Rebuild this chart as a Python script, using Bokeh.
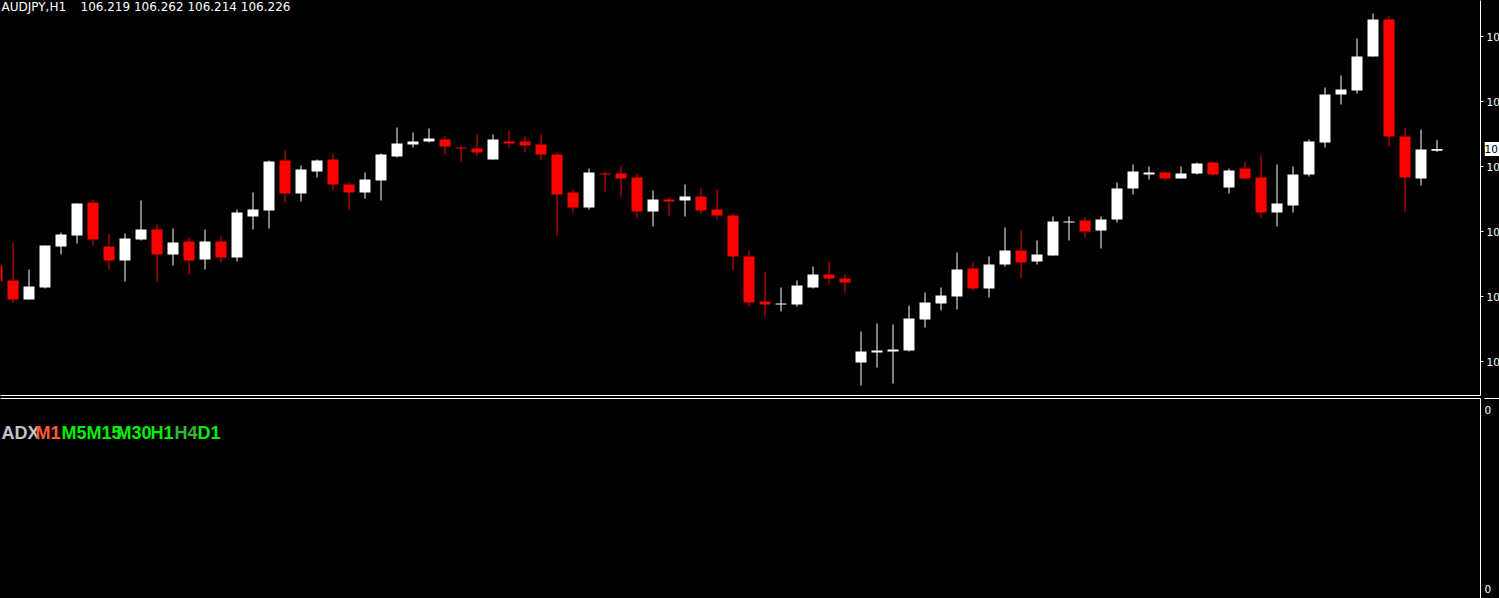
from bokeh.plotting import figure
from bokeh.models import (ColumnDataSource, Range1d, LinearAxis, FixedTicker,
                          CustomJSTickFormatter, Label)
from bokeh.layouts import column, row
from bokeh.core.properties import value
from bokeh.embed import file_html
from bokeh.resources import INLINE

# ---------------- data ----------------
symbol = "AUDJPY,H1"
bar_index = list(range(-1, 90))

opens = [
    105.760,
    105.700, 105.624, 105.672, 105.836, 105.880, 106.012, 105.836, 105.780, 105.864, 105.904,
    105.804, 105.856, 105.784, 105.856, 105.792, 105.956, 105.980, 106.180, 106.048, 106.136,
    106.184, 106.084, 106.052, 106.100, 106.196, 106.244, 106.256, 106.264, 106.232, 106.228,
    106.184, 106.256, 106.256, 106.244, 106.204, 106.052, 105.992, 106.128, 106.128, 106.112,
    105.976, 106.024, 106.020, 106.036, 105.984, 105.960, 105.796, 105.616, 105.604, 105.604,
    105.672, 105.724, 105.708, 105.372, 105.412, 105.416, 105.420, 105.544, 105.608, 105.636,
    105.748, 105.668, 105.764, 105.820, 105.776, 105.800, 105.932, 105.940, 105.900, 105.944,
    106.068, 106.124, 106.132, 106.108, 106.128, 106.172, 106.072, 106.148, 106.112, 105.972,
    106.000, 106.124, 106.252, 106.444, 106.460, 106.596, 106.744, 106.276, 106.108, 106.219,
]
highs = [
    105.768,
    105.852, 105.744, 105.840, 105.892, 106.008, 106.024, 105.888, 105.888, 106.020, 105.924,
    105.908, 105.872, 105.904, 105.876, 105.984, 106.052, 106.180, 106.220, 106.160, 106.184,
    106.208, 106.092, 106.132, 106.208, 106.312, 106.292, 106.308, 106.280, 106.240, 106.284,
    106.284, 106.300, 106.276, 106.284, 106.212, 106.064, 106.148, 106.136, 106.156, 106.128,
    106.060, 106.032, 106.084, 106.068, 106.064, 105.968, 105.820, 105.736, 105.672, 105.700,
    105.756, 105.776, 105.724, 105.496, 105.528, 105.524, 105.600, 105.652, 105.672, 105.812,
    105.772, 105.796, 105.912, 105.900, 105.860, 105.956, 105.956, 105.952, 105.956, 106.092,
    106.164, 106.156, 106.136, 106.156, 106.172, 106.176, 106.148, 106.176, 106.200, 106.164,
    106.156, 106.264, 106.472, 106.520, 106.668, 106.768, 106.760, 106.312, 106.304, 106.262,
]
lows = [
    105.688,
    105.612, 105.624, 105.668, 105.804, 105.848, 105.840, 105.744, 105.696, 105.860, 105.696,
    105.760, 105.724, 105.744, 105.772, 105.776, 105.904, 105.908, 106.012, 106.016, 106.112,
    106.060, 105.984, 106.028, 106.020, 106.192, 106.232, 106.252, 106.204, 106.176, 106.200,
    106.184, 106.232, 106.212, 106.180, 105.880, 105.972, 105.984, 106.056, 106.036, 105.952,
    105.916, 105.960, 105.956, 105.968, 105.944, 105.740, 105.596, 105.556, 105.576, 105.596,
    105.668, 105.688, 105.652, 105.280, 105.352, 105.288, 105.416, 105.512, 105.580, 105.584,
    105.660, 105.632, 105.756, 105.708, 105.764, 105.800, 105.860, 105.872, 105.828, 105.932,
    106.044, 106.104, 106.100, 106.108, 106.124, 106.120, 106.048, 106.104, 105.952, 105.916,
    105.972, 106.116, 106.232, 106.404, 106.448, 106.596, 106.236, 105.976, 106.080, 106.214,
]
closes = [
    105.696,
    105.624, 105.676, 105.840, 105.884, 106.008, 105.864, 105.780, 105.868, 105.904, 105.804,
    105.852, 105.780, 105.856, 105.792, 105.972, 105.984, 106.176, 106.048, 106.144, 106.180,
    106.084, 106.052, 106.104, 106.204, 106.248, 106.256, 106.268, 106.236, 106.228, 106.212,
    106.264, 106.248, 106.240, 106.204, 106.044, 105.992, 106.132, 106.124, 106.108, 105.976,
    106.024, 106.016, 106.036, 105.980, 105.960, 105.796, 105.612, 105.604, 105.608, 105.680,
    105.724, 105.708, 105.692, 105.416, 105.420, 105.424, 105.548, 105.612, 105.640, 105.744,
    105.668, 105.764, 105.820, 105.772, 105.804, 105.936, 105.936, 105.896, 105.944, 106.068,
    106.136, 106.132, 106.108, 106.128, 106.168, 106.124, 106.140, 106.108, 105.972, 106.008,
    106.124, 106.256, 106.444, 106.464, 106.596, 106.744, 106.276, 106.112, 106.224, 106.226,
]

price_ticks = [105.376, 105.636, 105.896, 106.156, 106.416, 106.676]
price_range = (105.24, 106.82)

tf_labels = ["ADX", "M1", "M5", "M15", "M30", "H1", "H4", "D1"]
adx_scale_labels = ["0", "0"]

# ---------------- styles ----------------
UP, DOWN = "#ffffff", "#ff0000"
tf_colors = ["#c4c4c4", "#ff5a3c", "#00ee00", "#00ee00", "#00ee00", "#00ee00", "#33b633", "#00ee00"]
tf_x = [1, 35, 61, 86, 116, 150, 174, 197]
adx_scale_y = [0.945, 0.05]

W, H_MAIN, H_LOW = 1499, 396, 202
FRAME_W = 1480
AX_W = 4                     # axis line + 3px outward ticks
LAB_W = W - FRAME_W - AX_W   # price-scale strip, cut by the window edge
BAR_PX = 16
x_start = -12.5 / BAR_PX
x_end = x_start + FRAME_W / BAR_PX
VISIBLE = 2                  # only the first characters of the scale fit before the window edge
BLACK = {"background-color": "black"}

colors = [UP if c >= o else DOWN for o, c in zip(opens, closes)]
src = ColumnDataSource(dict(
    x=bar_index, o=opens, h=highs, l=lows, c=closes,
    top=[max(o, c) for o, c in zip(opens, closes)],
    bottom=[min(o, c) for o, c in zip(opens, closes)],
    color=colors,
))

common = dict(output_backend="svg", toolbar_location=None, tools="",
              x_axis_location=None, y_axis_location=None,
              background_fill_color="black", border_fill_color="black",
              outline_line_color=None, min_border_left=0, styles=BLACK)

def line_axis(ticks, tick_out=0):
    return LinearAxis(ticker=FixedTicker(ticks=ticks),
                      formatter=CustomJSTickFormatter(code="return ''"),
                      axis_line_color="white", major_tick_line_color="white",
                      major_tick_in=0, major_tick_out=tick_out,
                      minor_tick_in=0, minor_tick_out=0, major_label_standoff=0)

yr = Range1d(*price_range)
main = figure(width=FRAME_W + AX_W, height=H_MAIN, x_range=Range1d(x_start, x_end),
              y_range=yr, min_border_top=0, min_border_right=AX_W,
              min_border_bottom=1, **common)
main.grid.visible = False

main.segment(x0="x", y0="l", x1="x", y1="h", line_color="color", line_width=1, source=src)
main.vbar(x="x", top="top", bottom="bottom", width=11 / BAR_PX, fill_color="color",
          line_color=None, source=src)

main.add_layout(line_axis(price_ticks, 3), "right")
main.add_layout(line_axis([]), "below")

main.add_layout(Label(x=1, y=price_range[1], x_units="screen", y_offset=1, text=symbol,
                      text_color="white", text_font="DejaVu Sans", text_font_size="12px",
                      text_baseline="top"))
ohlc_text = " ".join(f"{v:.3f}" for v in (opens[-1], highs[-1], lows[-1], closes[-1]))
main.add_layout(Label(x=80, y=price_range[1], x_units="screen", y_offset=1, text=ohlc_text,
                      text_color="white", text_font="DejaVu Sans", text_font_size="12px",
                      text_baseline="top"))

# price scale strip at the right edge
mlab = figure(width=LAB_W, height=H_MAIN, x_range=Range1d(0, LAB_W), y_range=yr,
              min_border_top=0, min_border_right=0, min_border_bottom=1, **common)
mlab.grid.visible = False
tick_src = ColumnDataSource(dict(y=price_ticks,
                                 text=[f"{v:.3f}"[:VISIBLE] for v in price_ticks]))
mlab.text(x=2, y="y", text="text", source=tick_src, text_color="white",
          text_font=value("DejaVu Sans"), text_font_size="10.5px",
          text_baseline="middle", text_align="left")
mlab.rect(x=LAB_W / 2, y=closes[-1], width=LAB_W, height=14, height_units="screen",
          fill_color="white", line_color=None)
mlab.text(x=0, y=[closes[-1]], text=[f"{closes[-1]:.3f}"[:VISIBLE]], text_color="black",
          text_font=value("DejaVu Sans"), text_font_size="10.5px",
          text_baseline="middle", text_align="left")

# ---------------- ADX sub-window ----------------
yr2 = Range1d(0, 1)
lower = figure(width=FRAME_W + AX_W, height=H_LOW, x_range=Range1d(0, 1), y_range=yr2,
               min_border_top=2, min_border_right=AX_W, min_border_bottom=0, **common)
lower.grid.visible = False
lower.add_layout(line_axis([]), "above")
lower.add_layout(line_axis([]), "right")

for name, col, xx in zip(tf_labels, tf_colors, tf_x):
    lower.add_layout(Label(x=xx, y=0.83, x_units="screen", text=name, text_color=col,
                           text_font="Liberation Sans", text_font_style="bold",
                           text_font_size="18px", text_baseline="middle"))

llab = figure(width=LAB_W, height=H_LOW, x_range=Range1d(0, LAB_W), y_range=yr2,
              min_border_top=2, min_border_right=0, min_border_bottom=0, **common)
llab.grid.visible = False
llab.add_layout(line_axis([]), "above")
llab.text(x=0, y=adx_scale_y, text=adx_scale_labels, text_color="white",
          text_font=value("DejaVu Sans"), text_font_size="10.5px",
          text_baseline="middle", text_align="left")

p = column(row(main, mlab, spacing=0, styles=BLACK),
           row(lower, llab, spacing=0, styles=BLACK), spacing=0, styles=BLACK)

open("out.html", "w").write(file_html(p, INLINE))
